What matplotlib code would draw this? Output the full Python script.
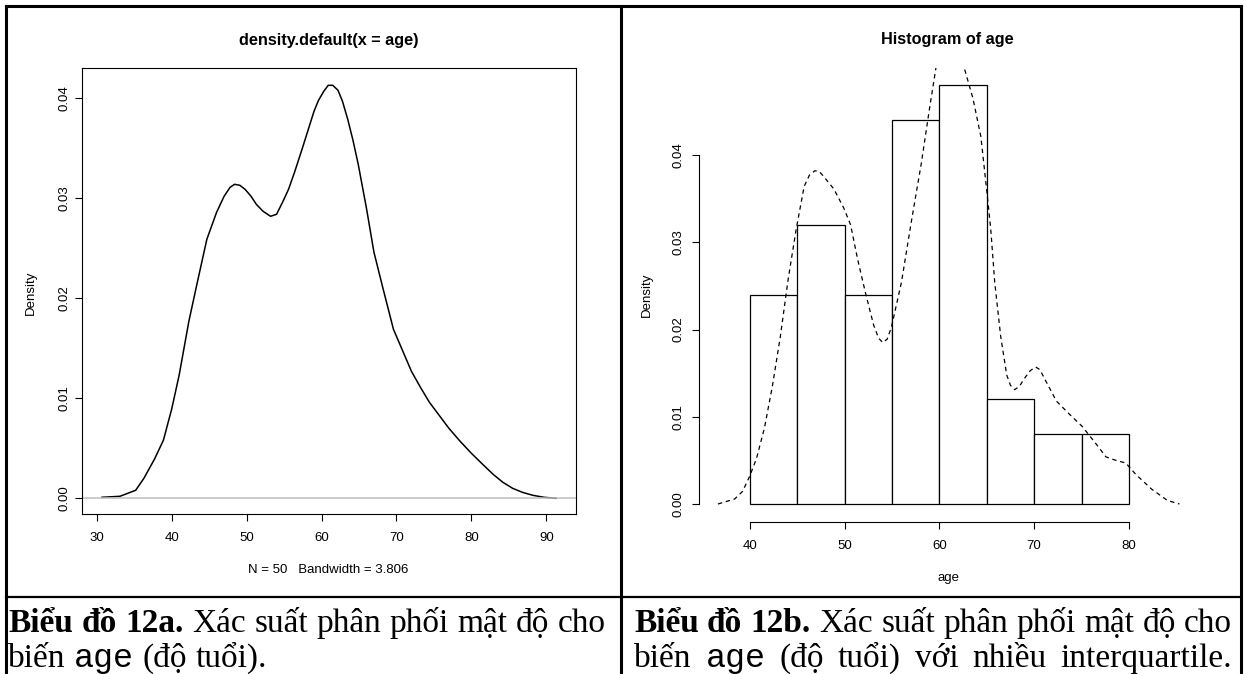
import matplotlib
matplotlib.use("Agg")
import matplotlib.pyplot as plt
from matplotlib.lines import Line2D

W, H = 1246, 674

# left panel: kernel density estimate of age
kde_x = [30.7, 33.1, 35.2, 36.3, 37.7, 38.9, 40.0, 41.0, 42.3, 43.4, 44.7, 46.0,
         47.0, 47.8, 48.4, 49.1, 49.8, 50.6, 51.3, 52.2, 53.2, 54.0, 54.8, 55.6,
         56.4, 57.4, 58.2, 59.0, 59.6, 60.3, 60.9, 61.5, 62.2, 62.8, 63.5, 64.2,
         64.9, 66.0, 67.0, 68.2, 69.6, 70.8, 72.0, 73.2, 74.4, 75.7, 77.0, 78.5,
         80.0, 81.5, 82.9, 84.2, 85.5, 86.8, 88.2, 89.7, 91.3]
kde_y = [0.0001, 0.0002, 0.0008, 0.0020, 0.0039, 0.0058, 0.0089, 0.0123, 0.0177,
         0.0215, 0.0259, 0.0286, 0.0302, 0.0311, 0.0314, 0.0313, 0.0309, 0.0302,
         0.0294, 0.0287, 0.0282, 0.0284, 0.0296, 0.0309, 0.0326, 0.0349, 0.0368,
         0.0387, 0.0398, 0.0407, 0.0413, 0.0413, 0.0408, 0.0397, 0.0379, 0.0358,
         0.0334, 0.0290, 0.0246, 0.0210, 0.0169, 0.0148, 0.0127, 0.0111, 0.0096,
         0.0083, 0.0070, 0.0057, 0.0045, 0.0034, 0.0024, 0.0016, 0.0010, 0.0006,
         0.0003, 0.0001, 0.0000]

# right panel: histogram of age (density scale) and a narrower kde
hist_breaks = [40, 45, 50, 55, 60, 65, 70, 75, 80]
hist_density = [0.024, 0.032, 0.024, 0.044, 0.048, 0.012, 0.008, 0.008]
dens_x = [36.65, 38.41, 39.25, 40.0, 40.71, 41.55, 42.39, 43.23, 44.06, 44.9,
          45.74, 46.3, 46.87, 47.35, 47.83, 48.88, 49.93, 50.64, 51.39, 52.23,
          53.07, 53.6, 54.03, 54.5, 54.95, 56.0, 57.05, 58.09, 58.93, 59.64,
          60.3, 61.1, 62.0, 62.62, 63.54, 64.38, 65.0, 65.42, 65.84, 66.47,
          67.1, 67.5, 67.94, 68.45, 68.98, 69.6, 70.16, 70.6, 71.08, 72.34,
          73.8, 75.06, 76.52, 77.57, 78.62, 79.66, 80.71, 82.39, 84.06, 85.32]
dens_y = [0.0, 0.00057, 0.00145, 0.0032, 0.0052, 0.0087, 0.0135, 0.0192, 0.0258,
          0.0315, 0.0364, 0.0377, 0.0382, 0.0381, 0.0375, 0.0361, 0.0339, 0.0320,
          0.0280, 0.0241, 0.0205, 0.0190, 0.0185, 0.0189, 0.0203, 0.0254, 0.0324,
          0.0390, 0.0451, 0.0500, 0.0535, 0.0555, 0.0540, 0.0500, 0.0465, 0.0421,
          0.0359, 0.0315, 0.0254, 0.0192, 0.0148, 0.0136, 0.0131, 0.0135, 0.0144,
          0.0153, 0.0157, 0.0154, 0.0144, 0.0118, 0.0102, 0.0089, 0.0069, 0.0054,
          0.0050, 0.0047, 0.0034, 0.0017, 0.0004, 0.0]

left_xticks = [30, 40, 50, 60, 70, 80, 90]
right_xticks = [40, 50, 60, 70, 80]
yticks = [0.0, 0.01, 0.02, 0.03, 0.04]

SANS = ["Liberation Sans", "DejaVu Sans"]
SERIF = ["Liberation Serif", "DejaVu Serif"]
MONO = ["Liberation Mono", "DejaVu Sans Mono"]
CAP_SIZE = 24.0


def px_axes(fig, x0, y0, x1, y1):
    return fig.add_axes([x0 / W, 1 - y1 / H, (x1 - x0) / W, (y1 - y0) / H])


def ftext(fig, x, y, s, **kw):
    return fig.text(x / W, 1 - y / H, s, **kw)


def style_ticks(ax, xpad, ypad):
    ax.tick_params(direction="out", length=5, width=0.8, labelsize=9.5,
                   color="black")
    ax.tick_params(axis="x", pad=xpad)
    ax.tick_params(axis="y", pad=ypad)
    ax.set_yticks(yticks)
    ax.set_yticklabels([f"{v:.2f}" for v in yticks], rotation=90,
                       va="center", family=SANS)


def text_width(fig, renderer, s, props):
    t = fig.text(0, 0, s, fontsize=CAP_SIZE, **props)
    w = t.get_window_extent(renderer).width
    t.remove()
    return w


def draw_line(fig, renderer, x, y, runs, right=None):
    # split the runs into words made of styled pieces, so a line can be justified
    words = [[]]
    for s, props in runs:
        parts = s.split(" ")
        for i, part in enumerate(parts):
            if i > 0:
                words.append([])
            if part:
                words[-1].append((part, props))
    words = [w for w in words if w]

    widths = [sum(text_width(fig, renderer, s, p) for s, p in w) for w in words]
    space = (text_width(fig, renderer, "a a", runs[-1][1])
             - text_width(fig, renderer, "aa", runs[-1][1]))
    gap = space
    if right is not None and len(words) > 1:
        gap = (right - x - sum(widths)) / (len(words) - 1)

    for w, wd in zip(words, widths):
        cx = x
        for s, props in w:
            ftext(fig, cx, y, s, ha="left", va="baseline", fontsize=CAP_SIZE,
                  **props)
            cx += text_width(fig, renderer, s, props)
        x += wd + gap


def main():
    fig = plt.figure(figsize=(W / 100, H / 100), dpi=100)

    # left: density plot
    ax = px_axes(fig, 82, 68.3, 575.7, 513.7)
    ax.plot(kde_x, kde_y, color="black", lw=1.1)
    ax.axhline(0, color="#bebebe", lw=1.1)
    ax.set_xlim(28.04, 93.92)
    ax.set_ylim(-0.00154, 0.0430)
    ax.set_xticks(left_xticks)
    ax.set_xticklabels([str(v) for v in left_xticks], family=SANS)
    style_ticks(ax, xpad=8.3, ypad=3.5)
    for sp in ax.spines.values():
        sp.set_linewidth(0.8)

    ftext(fig, 328.5, 40.2, "density.default(x = age)", ha="center", va="center",
          fontsize=11.7, weight="bold", family=SANS)
    ftext(fig, 31, 292.8, "Density", ha="center", va="center", rotation=90,
          fontsize=9.5, family=SANS)
    ftext(fig, 328.5, 570.2, "N = 50   Bandwidth = 3.806", ha="center",
          va="center", fontsize=9.5, family=SANS)

    # right: histogram with density overlay
    ax2 = px_axes(fig, 698.8, 68.4, 1198.5, 521.7)
    ax2.bar(hist_breaks[:-1], hist_density, width=5, align="edge",
            facecolor="white", edgecolor="black", linewidth=0.9)
    ax2.plot(dens_x, dens_y, color="black", lw=0.9, linestyle=(0, (3.5, 3)))
    ax2.set_xlim(34.63, 87.33)
    ax2.set_ylim(-0.00203, 0.04993)
    ax2.set_xticks(right_xticks)
    ax2.set_xticklabels([str(v) for v in right_xticks], family=SANS)
    style_ticks(ax2, xpad=8.0, ypad=5.6)
    for side in ("top", "right"):
        ax2.spines[side].set_visible(False)
    ax2.spines["left"].set_bounds(0, 0.04)
    ax2.spines["bottom"].set_bounds(40, 80)
    ax2.spines["left"].set_linewidth(0.8)
    ax2.spines["bottom"].set_linewidth(0.8)

    ftext(fig, 947.8, 39.4, "Histogram of age", ha="center", va="center",
          fontsize=11.7, weight="bold", family=SANS)
    ftext(fig, 646.8, 294.7, "Density", ha="center", va="center", rotation=90,
          fontsize=9.5, family=SANS)
    ftext(fig, 948.6, 578.3, "age", ha="center", va="center", fontsize=9.5,
          family=SANS)

    # table borders
    def hline(y, x0, x1, lw):
        fig.add_artist(Line2D([x0 / W, x1 / W], [1 - y / H, 1 - y / H],
                              color="black", lw=lw, solid_capstyle="projecting"))

    def vline(x, y0, y1, lw):
        fig.add_artist(Line2D([x / W, x / W], [1 - y0 / H, 1 - y1 / H],
                              color="black", lw=lw, solid_capstyle="projecting"))

    hline(5.7, 5.5, 1241, 2.2)
    hline(597, 5.5, 1241, 1.6)
    vline(5.5, 5.7, 674, 2.2)
    vline(621, 5.7, 674, 2.2)
    vline(1241, 5.7, 674, 2.2)

    # captions
    fig.canvas.draw()
    renderer = fig.canvas.get_renderer()
    bold = {"family": SERIF, "weight": "bold"}
    reg = {"family": SERIF}
    mono = {"family": MONO}
    draw_line(fig, renderer, 8, 632, [
        ("Biểu đồ 12a.", bold),
        (" Xác suất phân phối mật độ cho", reg)], right=606)
    draw_line(fig, renderer, 8, 667, [
        ("biến ", reg), ("age", mono), (" (độ tuổi).", reg)])
    draw_line(fig, renderer, 634, 632, [
        ("Biểu đồ 12b.", bold),
        (" Xác suất phân phối mật độ cho", reg)], right=1232)
    draw_line(fig, renderer, 634, 667, [
        ("biến ", reg), ("age", mono),
        (" (độ tuổi) với nhiều interquartile.", reg)], right=1232)

    fig.savefig("out.png", dpi=100)
    plt.close(fig)


if __name__ == "__main__":
    main()
